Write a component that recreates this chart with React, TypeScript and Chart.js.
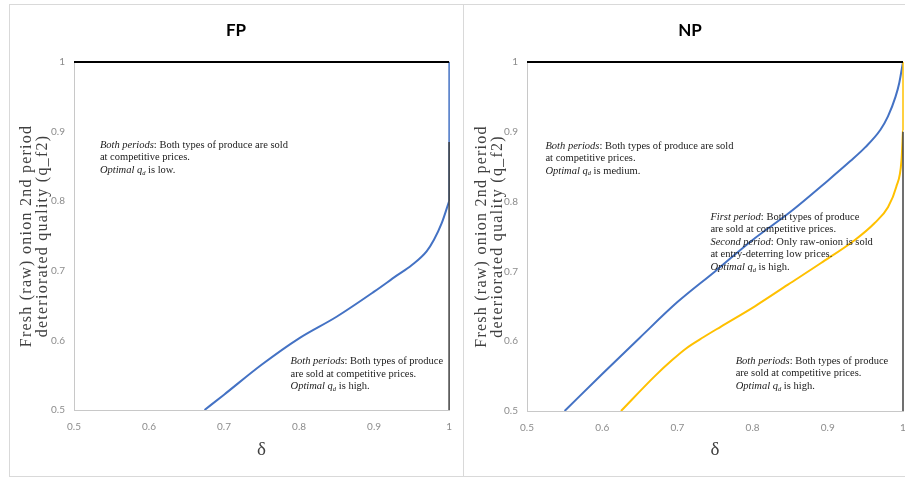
import { useEffect, useRef } from "react";
import { Chart, registerables } from "chart.js";

Chart.register(...registerables);

// ---- tick labels ----
const xTicks = [0.5, 0.6, 0.7, 0.8, 0.9, 1];
const yTicks = [0.5, 0.6, 0.7, 0.8, 0.9, 1];

// ---- FP panel ----
const fpDelta = [0.674, 0.7, 0.75, 0.8, 0.85, 0.9, 0.93, 0.95, 0.97, 0.98, 0.99, 1.0];
const fpQ = [0.5, 0.522, 0.565, 0.603, 0.634, 0.67, 0.693, 0.708, 0.728, 0.745, 0.768, 0.8];
const fpEdgeDelta = [1, 1];
const fpEdgeQ = [0.8, 1.0];
const fpRightDelta = [1, 1];
const fpRightQ = [0.5, 0.885];

// ---- NP panel ----
const npBlueDelta = [0.55, 0.6, 0.65, 0.7, 0.75, 0.8, 0.85, 0.9, 0.93, 0.95, 0.97, 0.98, 0.99, 0.995, 1.0];
const npBlueQ = [0.5, 0.553, 0.605, 0.656, 0.7, 0.745, 0.785, 0.83, 0.858, 0.878, 0.903, 0.922, 0.95, 0.97, 1.0];
const npYellowDelta = [0.625, 0.67, 0.693, 0.712, 0.735, 0.758, 0.803, 0.847, 0.891, 0.936, 0.962, 0.98, 0.991, 0.998, 1.0];
const npYellowQ = [0.5, 0.55, 0.573, 0.59, 0.606, 0.621, 0.65, 0.681, 0.712, 0.745, 0.769, 0.792, 0.821, 0.859, 0.902];
const npEdgeDelta = [1, 1];
const npEdgeQ = [0.902, 1.0];
const npRightDelta = [1, 1];
const npRightQ = [0.5, 0.9];

// ---- frame top line ----
const topDelta = [0.5, 1];
const topQ = [1, 1];

// ---- texts ----
const yTitle = ["Fresh (raw) onion 2nd period", "deteriorated quality (q_f2)"];
const xTitle = "δ";

type Seg = { t: string; i?: boolean; sub?: boolean };
type Note = { d: number; q: number; lines: Seg[][] };

const fpNotes: Note[] = [
  {
    d: 0.5345,
    q: 0.881,
    lines: [
      [{ t: "Both periods", i: true }, { t: ": Both types of produce are sold" }],
      [{ t: "at competitive prices." }],
      [{ t: "Optimal ", i: true }, { t: "q", i: true }, { t: "d", i: true, sub: true }, { t: " is low." }],
    ],
  },
  {
    d: 0.7887,
    q: 0.5694,
    lines: [
      [{ t: "Both periods", i: true }, { t: ": Both types of produce" }],
      [{ t: "are sold at competitive prices." }],
      [{ t: "Optimal ", i: true }, { t: "q", i: true }, { t: "d", i: true, sub: true }, { t: " is high." }],
    ],
  },
];

const npNotes: Note[] = [
  {
    d: 0.5245,
    q: 0.88,
    lines: [
      [{ t: "Both periods", i: true }, { t: ": Both types of produce are sold" }],
      [{ t: "at competitive prices." }],
      [{ t: "Optimal ", i: true }, { t: "q", i: true }, { t: "d", i: true, sub: true }, { t: " is medium." }],
    ],
  },
  {
    d: 0.7439,
    q: 0.778,
    lines: [
      [{ t: "First period", i: true }, { t: ": Both types of produce" }],
      [{ t: "are sold at competitive prices." }],
      [{ t: "Second period", i: true }, { t: ": Only raw-onion is sold" }],
      [{ t: "at entry-deterring low prices." }],
      [{ t: "Optimal ", i: true }, { t: "q", i: true }, { t: "d", i: true, sub: true }, { t: " is high." }],
    ],
  },
  {
    d: 0.7775,
    q: 0.5713,
    lines: [
      [{ t: "Both periods", i: true }, { t: ": Both types of produce" }],
      [{ t: "are sold at competitive prices." }],
      [{ t: "Optimal ", i: true }, { t: "q", i: true }, { t: "d", i: true, sub: true }, { t: " is high." }],
    ],
  },
];

const pts = (xs: number[], ys: number[]) => xs.map((x, i) => ({ x, y: ys[i] }));

const BLUE = "#4472C4";
const YELLOW = "#FFC000";
const SERIF = "'Liberation Serif', 'Times New Roman', serif";
const SANS = "Lato, 'Liberation Sans', sans-serif";

const notesPlugin = {
  id: "notes",
  afterDraw(chart: any, _args: any, opts: any) {
    const { ctx, chartArea } = chart;
    const xs = chart.scales.x;
    const ys = chart.scales.y;
    ctx.save();
    // panel title
    ctx.fillStyle = "#000";
    ctx.textAlign = "center";
    ctx.textBaseline = "middle";
    ctx.font = `bold 17px ${SANS}`;
    ctx.fillText(opts.title, chart.width / 2, 31);

    // y-axis title (letter-spaced, rotated)
    ctx.fillStyle = "#404040";
    ctx.font = `16px ${SERIF}`;
    (ctx as any).letterSpacing = "1.25px";
    const cy = (chartArea.top + chartArea.bottom) / 2;
    yTitle.forEach((line, k) => {
      ctx.save();
      ctx.translate(opts.yTitleX + k * 16, cy);
      ctx.rotate(-Math.PI / 2);
      ctx.fillText(line, 0, 0);
      ctx.restore();
    });
    (ctx as any).letterSpacing = "0px";

    // annotations
    ctx.fillStyle = "#1a1a1a";
    ctx.textAlign = "left";
    const items: Note[] = opts.items || [];
    for (const note of items) {
      const px0 = xs.getPixelForValue(note.d);
      let py = ys.getPixelForValue(note.q);
      for (const line of note.lines) {
        let px = px0;
        for (const seg of line) {
          const size = seg.sub ? opts.size * 0.62 : opts.size;
          ctx.font = `${seg.i ? "italic " : ""}${size}px ${SERIF}`;
          ctx.fillText(seg.t, px, seg.sub ? py + 3 : py);
          px += ctx.measureText(seg.t).width;
        }
        py += opts.lineHeight;
      }
    }
    ctx.restore();
  },
};

function makeConfig(opts: {
  title: string;
  datasets: any[];
  notes: Note[];
  yWidth: number;
  xHeight: number;
  yTitleX: number;
  rightPad: number;
}) {
  return {
    type: "line" as const,
    data: { datasets: opts.datasets },
    plugins: [notesPlugin],
    options: {
      animation: false,
      responsive: false,
      events: [],
      layout: { padding: { left: 0, right: opts.rightPad, top: 62, bottom: 0 } },
      elements: { point: { radius: 0 } },
      plugins: {
        legend: { display: false },
        tooltip: { enabled: false },
        title: { display: false },
        notes: { items: opts.notes, title: opts.title, yTitleX: opts.yTitleX, size: 10.5, lineHeight: 12.5 },
      },
      scales: {
        x: {
          type: "linear",
          min: 0.5,
          max: 1,
          afterBuildTicks: (s: any) => {
            s.ticks = xTicks.map((v) => ({ value: v }));
          },
          afterFit: (s: any) => {
            s.height = opts.xHeight;
          },
          ticks: {
            font: { family: SANS, size: 10 },
            color: "#8c8c8c",
            padding: 11,
            maxRotation: 0,
            callback: (v: any) => String(v),
          },
          grid: { display: false, drawTicks: false },
          border: { display: true, color: "#c8c8c8", width: 1 },
          title: {
            display: true,
            text: xTitle,
            color: "#404040",
            font: { family: SERIF, size: 19, lineHeight: 20 / 19 },
            padding: { top: 0, bottom: 18 },
          },
        },
        y: {
          type: "linear",
          min: 0.5,
          max: 1,
          afterBuildTicks: (s: any) => {
            s.ticks = yTicks.map((v) => ({ value: v }));
          },
          afterFit: (s: any) => {
            s.width = opts.yWidth;
          },
          ticks: {
            font: { family: SANS, size: 10 },
            color: "#8c8c8c",
            padding: 9,
            callback: (v: any) => String(v),
          },
          grid: { display: false, drawTicks: false },
          border: { display: true, color: "#c8c8c8", width: 1 },
          title: { display: false },
        },
      },
    },
  };
}

const lineDs = (data: any[], color: string, width: number, extra: any = {}) => ({
  data,
  borderColor: color,
  backgroundColor: color,
  borderWidth: width,
  pointRadius: 0,
  fill: false,
  ...extra,
});

function Panel(props: { left: number; config: () => any }) {
  const ref = useRef<HTMLCanvasElement | null>(null);
  useEffect(() => {
    if (!ref.current) return;
    const chart = new Chart(ref.current, props.config());
    return () => chart.destroy();
  }, []);
  return (
    <canvas
      ref={ref}
      width={454}
      height={478}
      style={{ position: "absolute", left: props.left, top: 0, width: 454, height: 478 }}
    />
  );
}

export default function App() {
  const fpConfig = () =>
    makeConfig({
      title: "FP",
      yWidth: 65,
      xHeight: 68,
      yTitleX: 18,
      rightPad: 12,
      notes: fpNotes,
      datasets: [
        lineDs(pts(fpRightDelta, fpRightQ), "#404040", 1.5, { clip: 3 }),
        lineDs(pts(topDelta, topQ), "#000000", 2, { clip: 3 }),
        lineDs(pts(fpEdgeDelta, fpEdgeQ), BLUE, 1.5, { clip: 3 }),
        lineDs(pts(fpDelta, fpQ), BLUE, 2, { cubicInterpolationMode: "monotone" }),
      ],
    });
  const npConfig = () =>
    makeConfig({
      title: "NP",
      yWidth: 64,
      xHeight: 67,
      yTitleX: 19,
      rightPad: 14,
      notes: npNotes,
      datasets: [
        lineDs(pts(npRightDelta, npRightQ), "#404040", 1.5, { clip: 3 }),
        lineDs(pts(topDelta, topQ), "#000000", 2, { clip: 3 }),
        lineDs(pts(npEdgeDelta, npEdgeQ), YELLOW, 1.5, { clip: 3 }),
        lineDs(pts(npBlueDelta, npBlueQ), BLUE, 2, { cubicInterpolationMode: "monotone" }),
        lineDs(pts(npYellowDelta, npYellowQ), YELLOW, 2, { cubicInterpolationMode: "monotone" }),
      ],
    });
  return (
    <div
      style={{
        position: "absolute",
        left: 0,
        top: 0,
        width: 905,
        height: 478,
        overflow: "hidden",
        background: "#ffffff",
      }}
    >
      <div
        style={{
          position: "absolute",
          left: 9,
          top: 4,
          width: 455,
          height: 473,
          boxSizing: "border-box",
          border: "1px solid #d9d9d9",
        }}
      />
      <div
        style={{
          position: "absolute",
          left: 463,
          top: 4,
          width: 470,
          height: 473,
          boxSizing: "border-box",
          border: "1px solid #d9d9d9",
        }}
      />
      <Panel left={9} config={fpConfig} />
      <Panel left={463} config={npConfig} />
    </div>
  );
}
